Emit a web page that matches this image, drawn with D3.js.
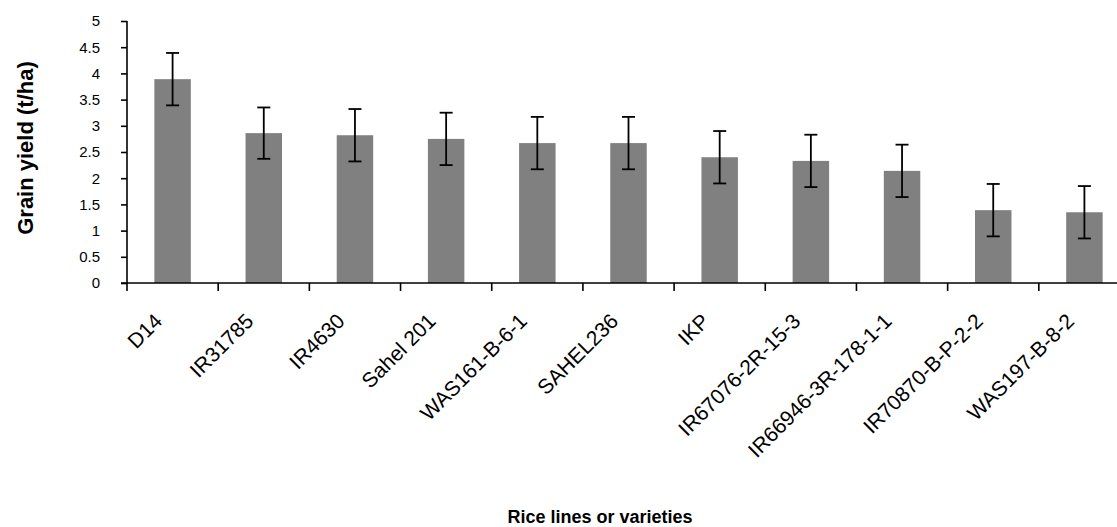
<!DOCTYPE html>
<html>
<head>
<meta charset="utf-8">
<script src="https://cdn.jsdelivr.net/npm/d3@7"></script>
<style>
  body { margin: 0; background: #fff; }
  svg { display: block; font-family: "Liberation Sans", Arial, sans-serif; }
</style>
</head>
<body>
<svg id="chart" width="1117" height="527"></svg>
<script>
// rice lines and their yields (t/ha), error = half the bar span
const varieties = ["D14", "IR31785", "IR4630", "Sahel 201", "WAS161-B-6-1", "SAHEL236",
  "IKP", "IR67076-2R-15-3", "IR66946-3R-178-1-1", "IR70870-B-P-2-2", "WAS197-B-8-2"];
const yields = [3.89, 2.86, 2.82, 2.75, 2.67, 2.67, 2.40, 2.33, 2.14, 1.39, 1.35];
const errors = [0.50, 0.49, 0.50, 0.50, 0.50, 0.50, 0.50, 0.50, 0.50, 0.50, 0.50];
const yTicks = [0, 0.5, 1, 1.5, 2, 2.5, 3, 3.5, 4, 4.5, 5];

const svg = d3.select("#chart");
// plot area runs a little past the right edge, as in the original
const mLeft = 127, mRight = 1130, mTop = 21, mBottom = 283;

const x = d3.scaleBand().domain(varieties).range([mLeft, mRight]).padding(0);
const y = d3.scaleLinear().domain([0, 5]).range([mBottom, mTop]);
const barW = x.bandwidth() * 0.4;

// bars
svg.append("g").selectAll("rect")
  .data(varieties)
  .enter().append("rect")
  .attr("x", d => x(d) + (x.bandwidth() - barW) / 2)
  .attr("y", (d, i) => y(yields[i]))
  .attr("width", barW)
  .attr("height", (d, i) => y(0) - y(yields[i]))
  .attr("fill", "#808080");

// error bars
const eb = svg.append("g").attr("stroke", "#000").attr("stroke-width", 1.8);
varieties.forEach((d, i) => {
  const cx = x(d) + x.bandwidth() / 2;
  const y1 = y(yields[i] + errors[i]), y2 = y(yields[i] - errors[i]);
  eb.append("line").attr("x1", cx).attr("x2", cx).attr("y1", y1).attr("y2", y2);
  eb.append("line").attr("x1", cx - 6.5).attr("x2", cx + 6.5).attr("y1", y1).attr("y2", y1);
  eb.append("line").attr("x1", cx - 6.5).attr("x2", cx + 6.5).attr("y1", y2).attr("y2", y2);
});

// y axis
const yAxis = svg.append("g")
  .attr("transform", `translate(${mLeft},0)`)
  .call(d3.axisLeft(y).tickValues(yTicks).tickSize(6).tickPadding(21).tickFormat(d3.format("")));
yAxis.select(".domain").attr("d", `M0,${mTop}V${mBottom + 8}`);
yAxis.selectAll("line, path").attr("stroke", "#000").attr("stroke-width", 1.6);
yAxis.selectAll("text").attr("font-size", 15).attr("fill", "#000")
  .style("font-family", "Liberation Sans, Arial, sans-serif");

// x axis: ticks at category boundaries
const xAxis = svg.append("g").attr("transform", `translate(0,${mBottom})`);
xAxis.append("line").attr("x1", mLeft - 6).attr("x2", mRight).attr("y1", 0).attr("y2", 0)
  .attr("stroke", "#000").attr("stroke-width", 1.6);
xAxis.selectAll("line.tick")
  .data(varieties.slice(1))
  .enter().append("line")
  .attr("class", "tick")
  .attr("x1", d => x(d)).attr("x2", d => x(d))
  .attr("y1", 0).attr("y2", 8)
  .attr("stroke", "#000").attr("stroke-width", 1.6);

xAxis.selectAll("text")
  .data(varieties)
  .enter().append("text")
  .attr("transform", d => `translate(${x(d) + x.bandwidth() / 2 - 9},39.5) rotate(-45)`)
  .attr("text-anchor", "end")
  .attr("font-size", 21)
  .attr("fill", "#000")
  .text(d => d);

// titles
svg.append("text")
  .attr("transform", `translate(33,148) rotate(-90)`)
  .attr("text-anchor", "middle")
  .attr("font-size", 22)
  .attr("font-weight", "bold")
  .text("Grain yield (t/ha)");

svg.append("text")
  .attr("x", 600).attr("y", 523)
  .attr("text-anchor", "middle")
  .attr("font-size", 18)
  .attr("font-weight", "bold")
  .text("Rice lines or varieties");
</script>
</body>
</html>
